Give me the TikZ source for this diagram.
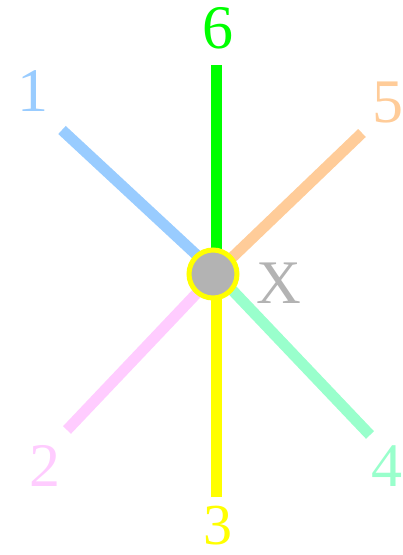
\documentclass[tikz,border=0pt]{standalone}
\usepackage{fontspec}
\setmainfont{Liberation Serif}
\usepackage{tikz}
\usetikzlibrary{positioning}

\definecolor{cblue}{HTML}{99CCFF}
\definecolor{corange}{HTML}{FFCC99}
\definecolor{cgreen}{HTML}{00FF00}
\definecolor{cpink}{HTML}{FFCCFF}
\definecolor{cyellow}{HTML}{FFFF00}
\definecolor{cmint}{HTML}{99FFCC}
\definecolor{cgray}{HTML}{B3B3B3}

\tikzset{
  spoke/.style={line width=11pt},
  lbl/.style={font=\fontsize{62}{64}\selectfont, inner sep=0pt}
}

\begin{document}
\begin{tikzpicture}[x=1pt,y=-1pt]
        \useasboundingbox (0,0) rectangle (403,555);
        \coordinate (c) at (216,273);
        \coordinate (e1) at (62,130);
        \coordinate (e2) at (67,430);
        \coordinate (e3) at (216,497);
        \coordinate (e4) at (370,435);
        \coordinate (e5) at (362,133);
        \coordinate (e6) at (216,65);
        \draw[spoke,cblue] (e1)--(c);
        \draw[spoke,cpink] (e2)--(c);
        \draw[spoke,cyellow] (e3)--(c);
        \draw[spoke,cmint] (e4)--(c);
        \draw[spoke,corange] (e5)--(c);
        \draw[spoke,cgreen] (e6)--(c);
        \node[circle, minimum size=48pt, inner sep=0pt, fill=cgray, draw=cyellow, line width=5pt] (X) at (213,274) {};
        \node[lbl,text=cblue] (n1) at (33,91) {1};
        \node[lbl,text=cpink] (n2) at (45,466) {2};
        \node[lbl,text=cyellow,font=\fontsize{58}{60}\selectfont] (n3) at (218,526) {3};
        \node[lbl,text=cmint] (n4) at (387,466) {4};
        \node[lbl,text=corange] (n5) at (388,103) {5};
        \node[lbl,text=cgreen] (n6) at (218,28) {6};
        \node[lbl,text=cgray] (nx) at (279,283) {X};
    \end{tikzpicture}
\end{document}
